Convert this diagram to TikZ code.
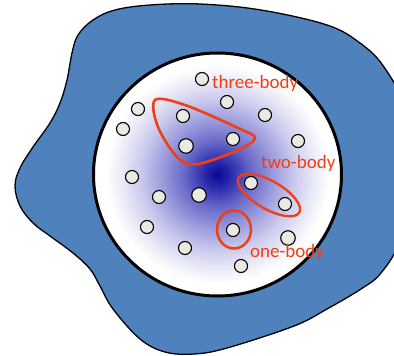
\documentclass[tikz,border=0pt]{standalone}
\usepackage{fontspec}
\newfontfamily\labfont{Carlito}
\definecolor{blobblue}{RGB}{79,129,189}
\definecolor{redline}{RGB}{240,62,22}
\definecolor{partfill}{RGB}{234,234,226}
\pgfdeclareradialshading{glow}{\pgfpoint{0bp}{0bp}}{rgb(0bp)=(0.03,0.03,0.58); rgb(2.5bp)=(0.15,0.15,0.67); rgb(7bp)=(0.42,0.42,0.79); rgb(11.5bp)=(0.62,0.62,0.87); rgb(15.5bp)=(0.79,0.79,0.93); rgb(19.5bp)=(0.92,0.92,0.97); rgb(22.5bp)=(1,1,1); rgb(50bp)=(1,1,1)}
\begin{document}
\begin{tikzpicture}[x=1pt,y=-1pt,
  particle/.style={circle,draw=black,line width=1.1pt,fill=partfill,minimum size=13pt,inner sep=0pt},
  big/.style={minimum size=14.5pt},
  contour/.style={draw=redline,line width=2.6pt},
  lab/.style={text=redline,font=\labfont\fontsize{19}{22}\selectfont,anchor=base west,inner sep=0pt}]
\useasboundingbox (0,0) rectangle (394,356);
\clip (0,0) rectangle (394,356);
% outer blob
\draw[fill=blobblue,line width=1.3pt] plot[smooth cycle,tension=0.6] coordinates {
  (15,186) (20,168) (33,147) (50,123) (60,103) (67,80) (72,53) (78,35) (93,20) (115,10)
  (150,5) (200,4) (261,10) (327,25) (360,43) (384,67) (405,110) (410,180) (400,240)
  (381,273) (361,289) (327,309) (294,326) (227,348) (194,354) (165,352) (140,339)
  (113,309) (100,286) (90,269) (73,253) (50,236) (33,223) (20,206)};
% inner region
\shade[shading=glow] (217.5,174.5) ellipse [x radius=124pt, y radius=121.5pt];
\draw[line width=3pt] (217.5,174.5) ellipse [x radius=124pt, y radius=121.5pt];
% particles
\node[particle] (p1) at (202,79) {};
\node[particle] (p2) at (138,109) {};
\node[particle] (p3) at (123,129) {};
\node[particle] (p4) at (183,116) {};
\node[particle] (p5) at (227,102) {};
\node[particle] (p6) at (265,115) {};
\node[particle,big] (p7) at (186,146) {};
\node[particle] (p8) at (233,139) {};
\node[particle] (p9) at (298,141) {};
\node[particle] (p10) at (132,177) {};
\node[particle] (p11) at (159,197) {};
\node[particle,big] (p12) at (199,195) {};
\node[particle] (p13) at (251,183) {};
\node[particle] (p14) at (285,204) {};
\node[particle] (p15) at (147,227) {};
\node[particle] (p16) at (233,230) {};
\node[particle,big] (p17) at (288,238) {};
\node[particle] (p18) at (185,248) {};
\node[particle] (p19) at (241,266) {};
% clusters
\draw[contour] plot[smooth cycle,tension=0.55] coordinates {
  (155,100) (185,105) (238,128) (255,138) (238,150) (198,164) (178,158) (158,127)};
\draw[contour,line width=2.3pt,rotate around={-30:(269,195)}] (269,195) ellipse [x radius=35pt, y radius=14pt];
\draw[contour,line width=2.5pt] (234,229.5) ellipse [x radius=17pt, y radius=19pt];
% labels
\node[lab] (l3) at (212,88) {three-body};
\node[lab] (l2) at (261,168) {two-body};
\node[lab] (l1) at (250,257) {one-body};
\end{tikzpicture}
\end{document}
